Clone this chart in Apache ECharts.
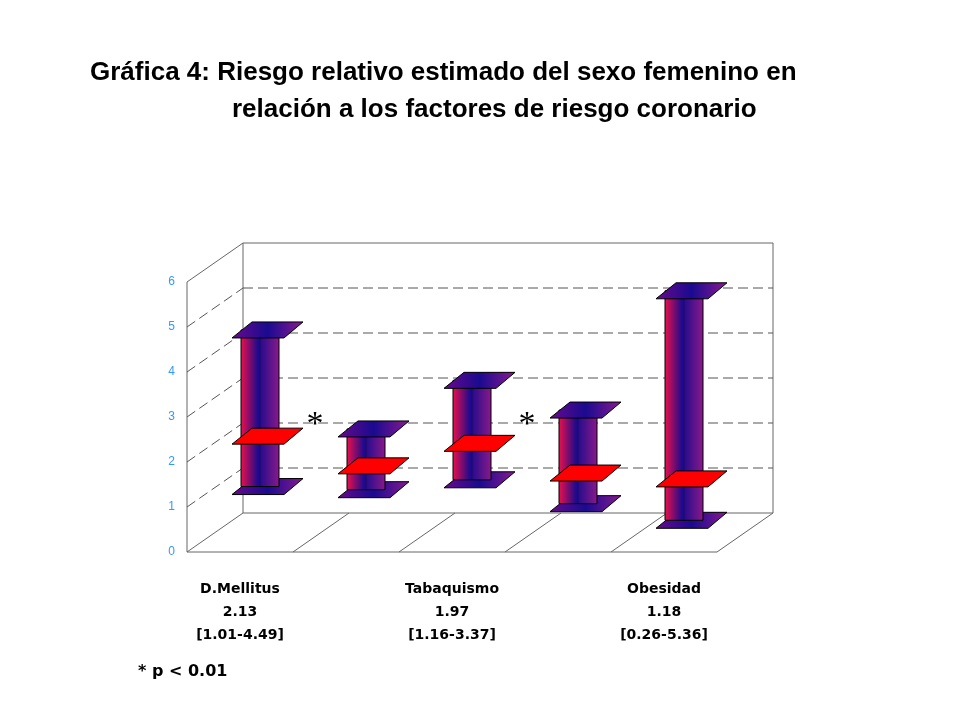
<!DOCTYPE html>
<html><head><meta charset="utf-8">
<script src="https://cdn.jsdelivr.net/npm/echarts@6/dist/echarts.min.js"></script>
<style>html,body{margin:0;background:#fff}#c{width:960px;height:720px}</style>
</head><body><div id="c"></div>
<script>
var categories = ['D.Mellitus', 'HTA', 'Tabaquismo', 'Col \u2191', 'Obesidad'];
var rr = [2.13, 1.47, 1.97, 1.31, 1.18];
var lower = [1.01, 0.94, 1.16, 0.63, 0.26];
var upper = [4.49, 2.29, 3.37, 2.71, 5.36];
var rrLabels = ['2.13', '1.47', '1.97', '1.31', '1.18'];
var ciLabels = ['[1.01-4.49]', '[0.94-2.29]', '[1.16-3.37]', '[0.63-2.71]', '[0.26-5.36]'];
var significant = [true, false, true, false, false];
var yTicks = [0, 1, 2, 3, 4, 5, 6];

var DX = 56, DY = -39, MX = 20, MY = -20;
var chart = echarts.init(document.getElementById('c'));
var colGrad = new echarts.graphic.LinearGradient(0, 0, 1, 0, [
  {offset: 0, color: '#f0104a'}, {offset: 0.45, color: '#1c0a8c'}, {offset: 1, color: '#8a1a8a'}]);
var plateGrad = new echarts.graphic.LinearGradient(0, 0, 1, 0, [
  {offset: 0, color: '#6a0a8a'}, {offset: 0.5, color: '#1a0a90'}, {offset: 1, color: '#8a1a90'}]);
function plate(cx, y, fill) {
  return {type: 'polygon', shape: {points: [[cx - 28, y + 8], [cx + 24, y + 8], [cx + 43, y - 8], [cx - 8, y - 8]]},
    style: {fill: fill, stroke: '#000', lineWidth: 1}};
}
var frameSeries = {
  type: 'custom', data: [0], silent: true, z: 1,
  renderItem: function (params, api) {
    var n = categories.length;
    var p00 = api.coord([0, 0]), p06 = api.coord([0, 6]);
    var half = api.size([1, 0])[0] / 2;
    var x0 = p00[0] - half, x1 = p00[0] - half + n * half * 2, y0 = p00[1], y6 = p06[1];
    var st = {stroke: '#666', lineWidth: 1, fill: null};
    var ds = {stroke: '#555', lineWidth: 1, fill: null, lineDash: [10, 5]};
    var ch = [];
    function line(a, b, c, d, s) { ch.push({type: 'line', shape: {x1: a, y1: b, x2: c, y2: d}, style: s}); }
    line(x0, y0, x0, y6, st); line(x0, y6, x0 + DX, y6 + DY, st);
    line(x0 + DX, y0 + DY, x0 + DX, y6 + DY, st); line(x0 + DX, y6 + DY, x1 + DX, y6 + DY, st);
    line(x1 + DX, y0 + DY, x1 + DX, y6 + DY, st);
    line(x0, y0, x1, y0, st); line(x0 + DX, y0 + DY, x1 + DX, y0 + DY, st);
    for (var i = 0; i <= n; i++) { var xx = x0 + i * half * 2; line(xx, y0, xx + DX, y0 + DY, st); }
    for (var v = 1; v <= 5; v++) {
      var y = api.coord([0, v])[1];
      line(x0, y, x0 + DX, y + DY, ds); line(x0 + DX, y + DY, x1 + DX, y + DY, ds);
    }
    return {type: 'group', children: ch};
  }
};
var barSeries = {
  type: 'custom', z: 5,
  data: categories.map(function (c, i) { return [i, lower[i], rr[i], upper[i]]; }),
  renderItem: function (params, api) {
    var i = api.value(0);
    var pl = api.coord([i, api.value(1)]), pm = api.coord([i, api.value(2)]), pu = api.coord([i, api.value(3)]);
    var cx = pl[0] + MX;
    var yl = pl[1] + MY, ym = pm[1] + MY, yu = pu[1] + MY;
    var ch = [plate(cx, yl, plateGrad),
      {type: 'rect', shape: {x: cx - 19, y: yu, width: 38, height: yl - yu}, style: {fill: colGrad, stroke: '#000', lineWidth: 1}},
      {type: 'line', shape: {x1: cx, y1: yu, x2: cx, y2: yl}, style: {stroke: 'rgba(0,0,0,0.25)', lineWidth: 1}},
      plate(cx, ym, '#ff0000'), plate(cx, yu, plateGrad)];
    if (significant[i]) {
      ch.push({type: 'text', style: {text: '*', x: cx + 55, y: api.coord([i, 3])[1] + 8, font: '34px "Liberation Serif"', fill: '#000', align: 'center', verticalAlign: 'middle'}});
    }
    return {type: 'group', children: ch};
  }
};
chart.setOption({
  animation: false,
  grid: {left: 187, right: 243, top: 282, bottom: 168},
  xAxis: {type: 'category', data: categories, axisLine: {show: false}, axisTick: {show: false},
    axisLabel: {margin: 26, color: '#000', fontFamily: 'DejaVu Sans', fontWeight: 'bold', fontSize: 14, lineHeight: 23,
      formatter: function (v, i) { return v + '\n' + rrLabels[i] + '\n' + ciLabels[i]; }}},
  yAxis: {type: 'value', min: yTicks[0], max: yTicks[yTicks.length - 1], interval: 1, splitLine: {show: false},
    axisLine: {show: false}, axisTick: {show: false},
    axisLabel: {margin: 12, color: '#3399ff', fontSize: 12, fontFamily: 'Liberation Sans'}},
  graphic: [
    {type: 'text', left: 90, top: 60, style: {text: 'Gráfica 4: Riesgo relativo estimado del sexo femenino en', font: 'bold 26px "Liberation Sans"', fill: '#000'}},
    {type: 'text', left: 232, top: 97, style: {text: 'relación a los factores de riesgo coronario', font: 'bold 26px "Liberation Sans"', fill: '#000'}},
    {type: 'text', left: 138, top: 664, style: {text: '* p < 0.01', font: 'bold 16px "DejaVu Sans"', fill: '#000'}}
  ],
  series: [frameSeries, barSeries]
});
</script></body></html>
